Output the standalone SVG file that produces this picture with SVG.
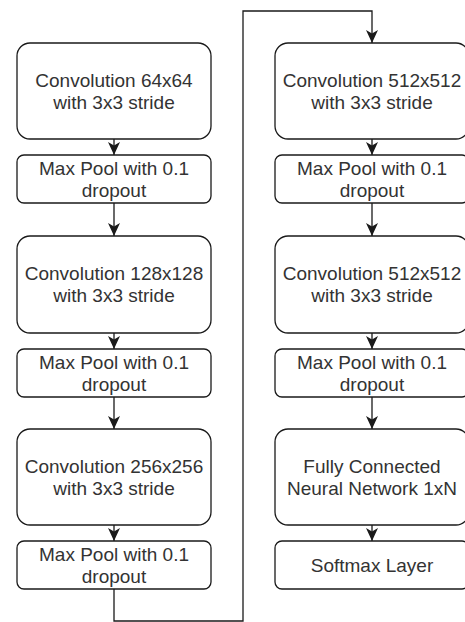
<svg xmlns="http://www.w3.org/2000/svg" width="465" height="622" viewBox="0 0 465 622">
  <style>
    .box { fill: #ffffff; stroke: #1a1a1a; stroke-width: 1.3; }
    .lbl { font-family: "Liberation Sans", Arial, sans-serif; font-size: 19px; fill: #333333; text-anchor: middle; }
    .edge { fill: none; stroke: #1a1a1a; stroke-width: 1.3; }
  </style>
  <defs>
    <marker id="arrow" viewBox="0 0 13 12" refX="13" refY="6" markerWidth="13" markerHeight="12" markerUnits="userSpaceOnUse" orient="auto">
      <path d="M0,0 L13,6 L0,12 L3.5,6 Z" fill="#1a1a1a"/>
    </marker>
  </defs>
  <rect width="465" height="622" fill="#ffffff"/>

  <!-- connectors -->
  <g id="connectors">
    <path class="edge" d="M114,139 V155" marker-end="url(#arrow)"/>
    <path class="edge" d="M114,203 V236" marker-end="url(#arrow)"/>
    <path class="edge" d="M114,333 V349" marker-end="url(#arrow)"/>
    <path class="edge" d="M114,397 V429" marker-end="url(#arrow)"/>
    <path class="edge" d="M114,525 V541" marker-end="url(#arrow)"/>
    <path class="edge" d="M114,589 V621 H243 V11 H372 V43" marker-end="url(#arrow)"/>
    <path class="edge" d="M372,139 V155" marker-end="url(#arrow)"/>
    <path class="edge" d="M372,203 V236" marker-end="url(#arrow)"/>
    <path class="edge" d="M372,333 V349" marker-end="url(#arrow)"/>
    <path class="edge" d="M372,397 V429" marker-end="url(#arrow)"/>
    <path class="edge" d="M372,525 V541" marker-end="url(#arrow)"/>
  </g>

  <!-- left column -->
  <g id="conv1">
    <rect class="box" x="17" y="43" width="194" height="96" rx="13"/>
    <text class="lbl" x="114" y="87">Convolution 64x64</text>
    <text class="lbl" x="114" y="109">with 3x3 stride</text>
  </g>
  <g id="pool1">
    <rect class="box" x="17" y="155" width="194" height="48" rx="7"/>
    <text class="lbl" x="114" y="175">Max Pool with 0.1</text>
    <text class="lbl" x="114" y="197">dropout</text>
  </g>
  <g id="conv2">
    <rect class="box" x="17" y="236" width="194" height="97" rx="13"/>
    <text class="lbl" x="114" y="280">Convolution 128x128</text>
    <text class="lbl" x="114" y="302">with 3x3 stride</text>
  </g>
  <g id="pool2">
    <rect class="box" x="17" y="349" width="194" height="48" rx="7"/>
    <text class="lbl" x="114" y="369">Max Pool with 0.1</text>
    <text class="lbl" x="114" y="391">dropout</text>
  </g>
  <g id="conv3">
    <rect class="box" x="17" y="429" width="194" height="96" rx="13"/>
    <text class="lbl" x="114" y="473">Convolution 256x256</text>
    <text class="lbl" x="114" y="495">with 3x3 stride</text>
  </g>
  <g id="pool3">
    <rect class="box" x="17" y="541" width="194" height="48" rx="7"/>
    <text class="lbl" x="114" y="561">Max Pool with 0.1</text>
    <text class="lbl" x="114" y="583">dropout</text>
  </g>

  <!-- right column -->
  <g id="conv4">
    <rect class="box" x="275" y="43" width="194" height="96" rx="13"/>
    <text class="lbl" x="372" y="87">Convolution 512x512</text>
    <text class="lbl" x="372" y="109">with 3x3 stride</text>
  </g>
  <g id="pool4">
    <rect class="box" x="275" y="155" width="194" height="48" rx="7"/>
    <text class="lbl" x="372" y="175">Max Pool with 0.1</text>
    <text class="lbl" x="372" y="197">dropout</text>
  </g>
  <g id="conv5">
    <rect class="box" x="275" y="236" width="194" height="97" rx="13"/>
    <text class="lbl" x="372" y="280">Convolution 512x512</text>
    <text class="lbl" x="372" y="302">with 3x3 stride</text>
  </g>
  <g id="pool5">
    <rect class="box" x="275" y="349" width="194" height="48" rx="7"/>
    <text class="lbl" x="372" y="369">Max Pool with 0.1</text>
    <text class="lbl" x="372" y="391">dropout</text>
  </g>
  <g id="fc">
    <rect class="box" x="275" y="429" width="194" height="96" rx="13"/>
    <text class="lbl" x="372" y="473">Fully Connected</text>
    <text class="lbl" x="372" y="495">Neural Network 1xN</text>
  </g>
  <g id="softmax">
    <rect class="box" x="275" y="541" width="194" height="48" rx="7"/>
    <text class="lbl" x="372" y="572">Softmax Layer</text>
  </g>
</svg>
